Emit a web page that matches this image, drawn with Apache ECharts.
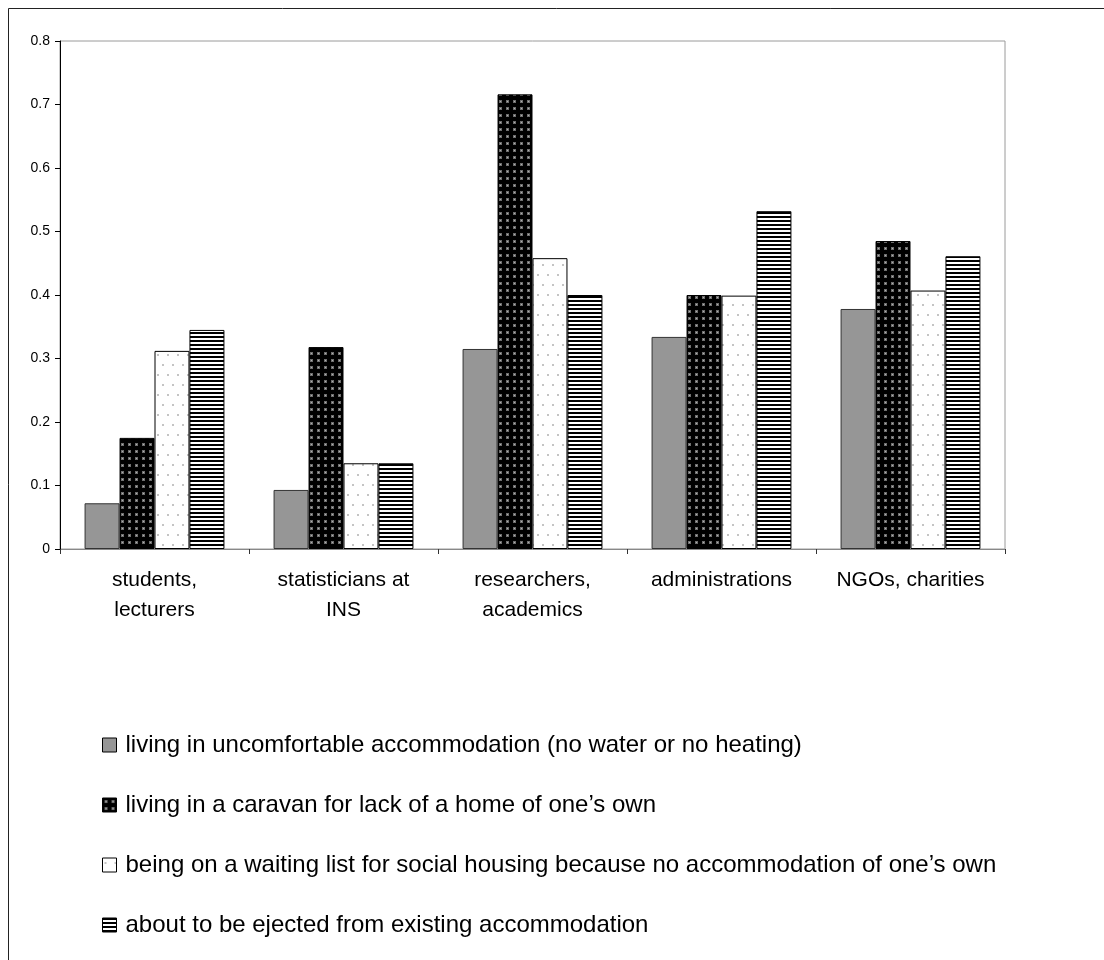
<!DOCTYPE html>
<html>
<head>
<meta charset="utf-8">
<script src="https://cdn.jsdelivr.net/npm/echarts@6/dist/echarts.min.js"></script>
<style>
  html, body { margin: 0; padding: 0; background: #fff; }
  #chart { width: 1104px; height: 960px; }
</style>
</head>
<body>
<div id="chart"></div>
<script>
// Respondent groups along the x axis
const categories = [
  'students,\nlecturers',
  'statisticians at\nINS',
  'researchers,\nacademics',
  'administrations',
  'NGOs, charities'
];

// Series names
const seriesNames = [
  'living in uncomfortable accommodation (no water or no heating)',
  'living in a caravan for lack of a home of one\u2019s own',
  'being on a waiting list for social housing because no accommodation of one\u2019s own',
  'about to be ejected from existing accommodation'
];

// Shares per group
const uncomfortable = [0.072, 0.093, 0.315, 0.334, 0.378];
const caravan       = [0.175, 0.318, 0.716, 0.400, 0.485];
const waitingList   = [0.312, 0.135, 0.458, 0.399, 0.407];
const ejected       = [0.345, 0.135, 0.400, 0.532, 0.461];

const yTicks = { min: 0, max: 0.8, interval: 0.1 };

// Fill patterns
function makePattern(w, h, draw) {
  const c = document.createElement('canvas');
  c.width = w; c.height = h;
  const ctx = c.getContext('2d');
  draw(ctx);
  return { image: c, repeat: 'repeat' };
}
const dotsOnBlack = makePattern(7, 7, ctx => {
  ctx.fillStyle = '#000'; ctx.fillRect(0, 0, 7, 7);
  ctx.fillStyle = '#6e6e6e'; ctx.fillRect(2, 2, 3, 3);
  ctx.fillStyle = '#b0b0b0'; ctx.fillRect(3, 3, 1, 1);
});
const sparseDots = makePattern(10, 20, ctx => {
  ctx.fillStyle = '#fff'; ctx.fillRect(0, 0, 10, 20);
  ctx.fillStyle = '#c4c4c4';
  ctx.fillRect(2, 4, 2, 2);
  ctx.fillRect(7, 14, 2, 2);
});
const hStripes = makePattern(4, 4, ctx => {
  ctx.fillStyle = '#fff'; ctx.fillRect(0, 0, 4, 4);
  ctx.fillStyle = '#000'; ctx.fillRect(0, 0, 4, 2);
});

const fills = ['#969696', dotsOnBlack, sparseDots, hStripes];
const values = [uncomfortable, caravan, waitingList, ejected];

const chart = echarts.init(document.getElementById('chart'), null, { renderer: 'canvas' });

chart.setOption({
  animation: false,
  backgroundColor: '#fff',
  textStyle: { fontFamily: 'Liberation Sans, Arial, sans-serif', color: '#000' },
  grid: {
    left: 60, right: 99, top: 41, bottom: 411,
    show: true, borderColor: '#9a9a9a', borderWidth: 1, backgroundColor: 'transparent'
  },
  graphic: [{
    type: 'rect',
    shape: { x: 8.5, y: 8.5, width: 1200, height: 1000 },
    style: { fill: 'none', stroke: '#222', lineWidth: 1 },
    silent: true, z: -1
  }],
  legend: {
    orient: 'vertical',
    left: 102, top: 733,
    padding: 0,
    itemWidth: 14, itemHeight: 14,
    itemGap: 36,
    icon: 'rect',
    textStyle: { fontSize: 24, lineHeight: 24, color: '#000', padding: [0, 0, 0, 4],
                 fontFamily: 'Liberation Sans, Arial, sans-serif' },
    itemStyle: { borderColor: '#000', borderWidth: 1 },
    data: seriesNames
  },
  xAxis: {
    type: 'category',
    data: categories,
    axisLine: { lineStyle: { color: '#888', width: 1 } },
    axisTick: { show: true, length: 5, alignWithLabel: false, lineStyle: { color: '#333' } },
    axisLabel: { fontSize: 21, lineHeight: 30, margin: 16, color: '#000', interval: 0 }
  },
  yAxis: {
    type: 'value',
    min: yTicks.min, max: yTicks.max, interval: yTicks.interval,
    axisLine: { show: true, lineStyle: { color: '#000', width: 1 } },
    axisTick: { show: true, length: 5, lineStyle: { color: '#000' } },
    splitLine: { show: false },
    axisLabel: {
      fontSize: 14, color: '#000', margin: 10,
      formatter: v => (Math.round(v * 10) / 10).toString()
    }
  },
  series: seriesNames.map((name, i) => ({
    name,
    type: 'bar',
    data: values[i],
    barGap: '0%',
    barCategoryGap: '26%',
    itemStyle: {
      color: fills[i],
      borderColor: i === 0 ? '#333' : '#000',
      borderWidth: 1
    }
  }))
});
</script>
</body>
</html>
